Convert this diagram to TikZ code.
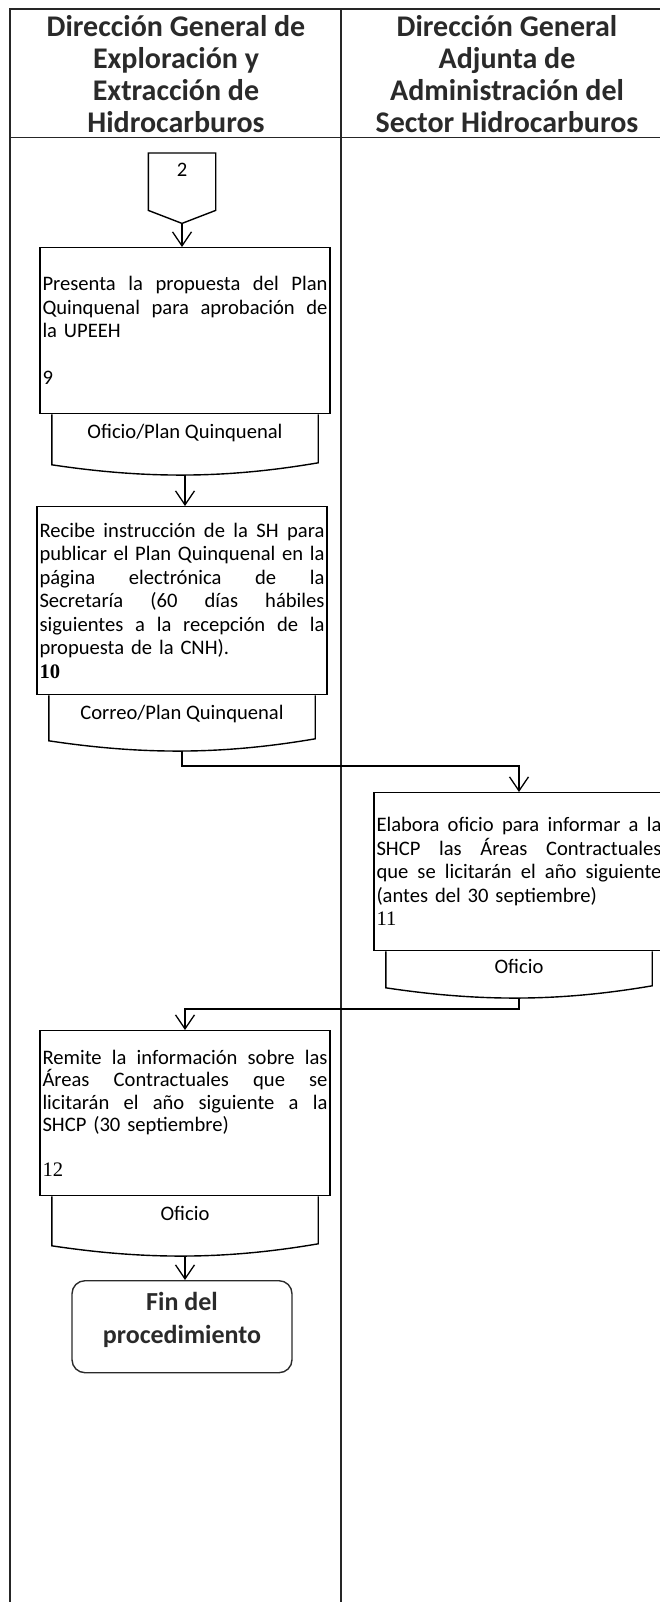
\documentclass[tikz,border=0pt]{standalone}
\usepackage{fontspec}
\setmainfont{Carlito}
\newfontfamily\numfont{Liberation Serif}
\usetikzlibrary{arrows.meta,calc}
\definecolor{headgray}{HTML}{2A2A2A}
% justified line: words spread over the full text width
\def\jline#1{\leavevmode\hbox to 285pt{\jlA#1 \jlEnd}}
\def\jlA#1 #2\jlEnd{#1\ifx\relax#2\relax\else\hfill\jlA#2\jlEnd\fi}
\newcommand\docoutline[1]{%
  \draw[boxline] (#1.north west) -- ([yshift=10pt]#1.south west)
    .. controls ($(#1.south west)!0.35!(#1.south east)+(0,-4pt)$)
       and ($(#1.south west)!0.65!(#1.south east)+(0,-4pt)$)
    .. ([yshift=12pt]#1.south east) -- (#1.north east);}
\tikzset{
  lane/.style={line width=1.5pt, draw=black!85},
  boxline/.style={line width=1.4pt, draw=black},
  bodyfont/.style={font=\fontsize{20.6}{23.5}\selectfont},
  procbox/.style={boxline, draw, rectangle, anchor=north, minimum width=290pt,
    text width=285pt, inner xsep=2.5pt, inner ysep=0pt, align=left, bodyfont},
  docbox/.style={rectangle, anchor=north, minimum width=266pt, inner sep=0pt,
    text height=24pt, bodyfont},
  offpage/.style={rectangle, anchor=north, minimum width=67pt, inner sep=0pt,
    text height=23pt, text depth=47pt, bodyfont},
  header/.style={font=\bfseries\fontsize{30}{32}\selectfont, text=headgray, align=center},
  endbox/.style={draw=headgray, line width=1.4pt, rounded corners=13pt, anchor=north,
    minimum width=220pt, minimum height=92pt,
    label={[font=\bfseries\fontsize{26}{33}\selectfont, text=headgray, align=center,
      yshift=7pt]center:Fin del\\procedimiento}},
  flow/.style={line width=1.3pt, draw=black, -{Straight Barb[length=14pt,width=19pt,line width=1.3pt]}}
}
\begin{document}
\begin{tikzpicture}[x=1pt,y=-1pt]
\useasboundingbox (0,0) rectangle (660,1602);
\clip (0,0) rectangle (660,1602);
% swimlanes
\draw[lane] (10,1602) -- (10,9) -- (665,9);
\draw[lane] (341,9) -- (341,1602);
\draw[lane] (10,137.5) -- (665,137.5);
\node[header] (h1) at (176,74.5) {Dirección General de\\Exploración y\\Extracción de\\Hidrocarburos};
\node[header] (h2) at (507,74.5) {Dirección General\\Adjunta de\\Administración del\\Sector Hidrocarburos};
% off-page connector
\node[offpage] (c2) at (182,153) {2};
\draw[boxline] (c2.north west) -- ([yshift=13pt]c2.south west) -- (c2.south)
  -- ([yshift=13pt]c2.south east) -- (c2.north east) -- cycle;
% step 9
\node[procbox, minimum height=166pt] (b9) at (185,247)
  {\jline{Presenta la propuesta del Plan}\\\jline{Quinquenal para aprobación de}\\la UPEEH\\[23.5pt]9};
\node[docbox, text depth=36pt] (d9) at (b9.south) {Oficio/Plan Quinquenal};
\docoutline{d9}
% step 10
\node[procbox, minimum height=188pt] (b10) at (182,506)
  {\jline{Recibe instrucción de la SH para}\\\jline{publicar el Plan Quinquenal en la}\\\jline{página electrónica de la}\\\jline{Secretaría (60 días hábiles}\\\jline{siguientes a la recepción de la}\\propuesta de la CNH).\\{\numfont\bfseries 10}};
\node[docbox, text depth=31pt] (d10) at (b10.south) {Correo/Plan Quinquenal};
\docoutline{d10}
% step 11
\node[procbox, minimum height=158pt] (b11) at (519,792)
  {\jline{Elabora oficio para informar a la}\\\jline{SHCP las Áreas Contractuales}\\\jline{que se licitarán el año siguiente}\\(antes del 30 septiembre)\\{\numfont 11}};
\node[docbox, text depth=24pt, text height=22pt] (d11) at (b11.south) {Oficio};
\docoutline{d11}
% step 12
\node[procbox, minimum height=165pt, font=\fontsize{20.6}{22.5}\selectfont] (b12) at (185,1030)
  {\jline{Remite la información sobre las}\\\jline{Áreas Contractuales que se}\\\jline{licitarán el año siguiente a la}\\SHCP (30 septiembre)\\[22.5pt]{\numfont 12}};
\node[docbox, text depth=35pt] (d12) at (b12.south) {Oficio};
\docoutline{d12}
% end
\node[endbox] (fin) at (182,1280) {};
% connectors
\coordinate (j1) at (0,766);
\coordinate (j2) at (0,1009);
\draw[flow] (c2.south) -- (c2.south |- b9.north);
\draw[flow] (d9.south) -- (d9.south |- b10.north);
\draw[flow] (d10.south) -- (d10.south |- j1) -| (b11.north);
\draw[flow] (d11.south) -- (d11.south |- j2) -| (b12.north);
\draw[flow] (d12.south) -- (d12.south |- fin.north);
\end{tikzpicture}
\end{document}
